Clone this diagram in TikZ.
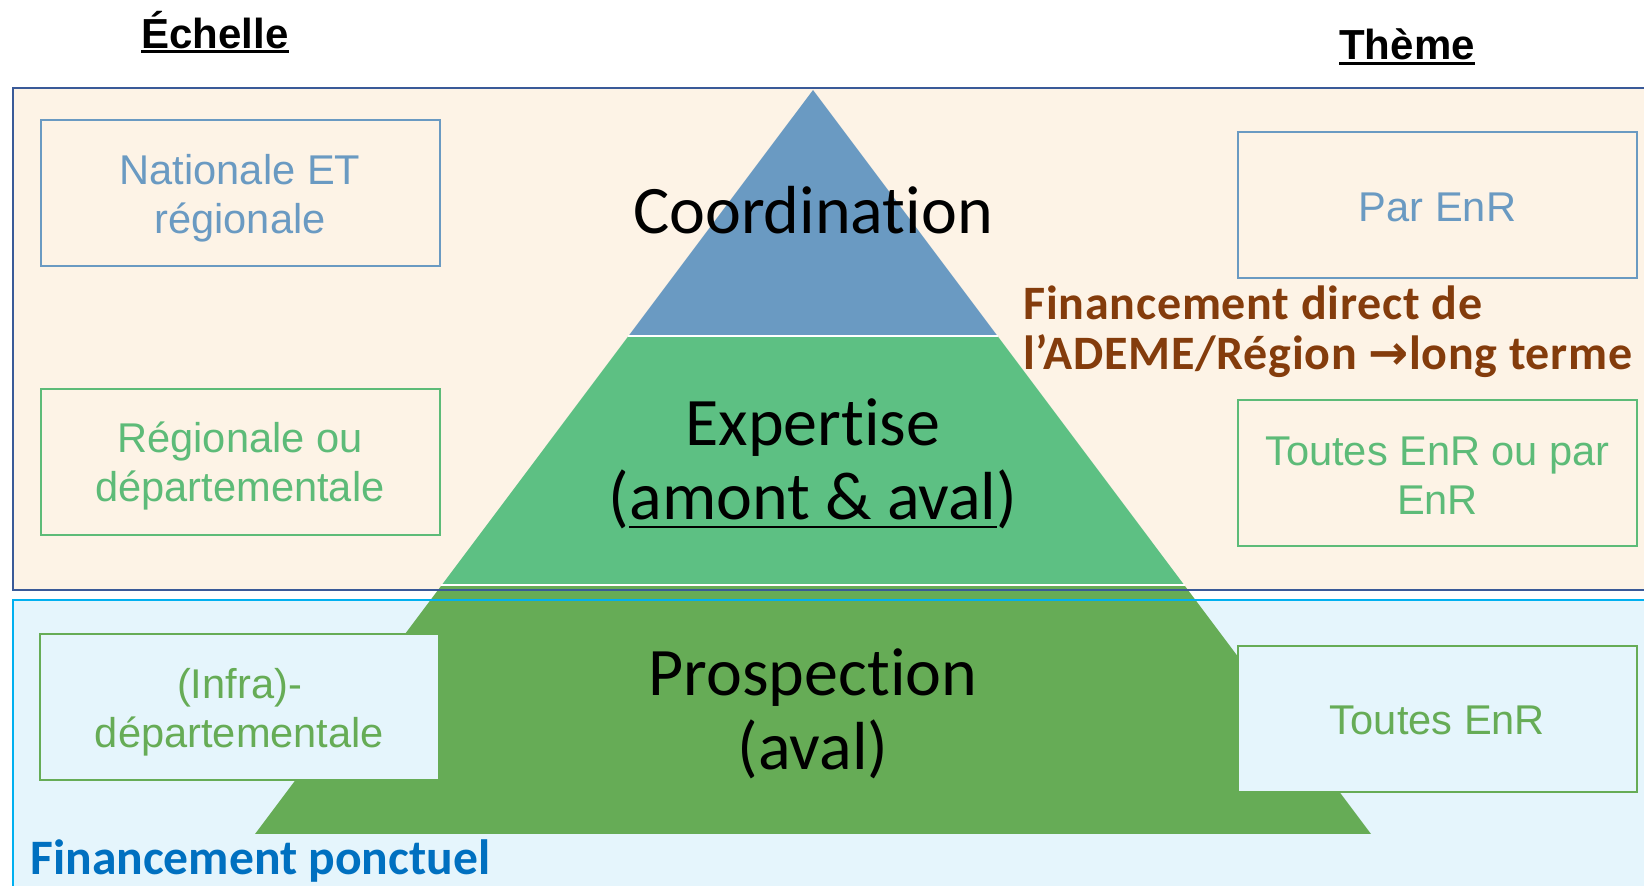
\documentclass[tikz,border=0pt]{standalone}
\usepackage{fontspec}
\setmainfont{Carlito}[Ligatures=NoCommon]
\newfontfamily\brownfont{Carlito}[Ligatures=NoCommon,LetterSpace=1.6]
\newfontfamily\arialfont{Liberation Sans}
\newfontfamily\arrowfont{DejaVu Sans}
\usetikzlibrary{calc}

% soulignement : #1 epaisseur, #2 descente, #3 texte
\newcommand{\myul}[3]{\setbox0\hbox{#3}\leavevmode\rlap{\raisebox{-#2}{\rule{\wd0}{#1}}}\box0}

\definecolor{topbg}{HTML}{FDF3E6}
\definecolor{botbg}{HTML}{E5F5FC}
\definecolor{topframe}{HTML}{3A5A98}
\definecolor{botframe}{HTML}{00B0F0}
\definecolor{pyrblue}{HTML}{6A9AC2}
\definecolor{pyrgreenA}{HTML}{5DC083}
\definecolor{pyrgreenB}{HTML}{66AC56}
\definecolor{txtgreenA}{HTML}{5DBB78}
\definecolor{finbrown}{HTML}{843C0C}
\definecolor{finblue}{HTML}{0070C0}

\tikzset{
	levelbox/.style={draw,line width=1pt,minimum width=199.5pt,minimum height=73pt,inner sep=0pt},
	boxtxt/.style={align=center,font=\arialfont\fontsize{20.8}{24.5}\selectfont},
	leveltxt/.style={align=center,font=\fontsize{34}{37}\selectfont,text=black},
	heading/.style={font=\arialfont\bfseries\fontsize{21}{24}\selectfont}
}

\begin{document}
\begin{tikzpicture}[x=0.5pt,y=-0.5pt]
\useasboundingbox (0,0) rectangle (1644,886);
\clip (0,0) rectangle (1644,886);
	% fonds
	\fill[topbg] (13,88) rectangle (1670,590);
	\fill[botbg] (13,600) rectangle (1670,900);
	% pyramide
	\coordinate (T) at (813,90);
	\coordinate (L1) at (628.1,336.5);
	\coordinate (R1) at (997.9,336.5);
	\coordinate (L2) at (441.4,585.5);
	\coordinate (R2) at (1184.6,585.5);
	\coordinate (BL) at (255,834);
	\coordinate (BR) at (1371,834);
	\fill[pyrblue] (T)--(R1)--(L1)--cycle;
	\fill[pyrgreenA] (L1)--(R1)--(R2)--(L2)--cycle;
	\fill[pyrgreenB] (L2)--(R2)--(BR)--(BL)--cycle;
	\draw[white,line width=1pt] (L1)--(R1);
	\draw[white,line width=1pt] (L2)--(R2);
	% cadres
	\draw[topframe,line width=1pt] (13,88) rectangle (1670,590);
	\draw[botframe,line width=1pt] (13,600) rectangle (1670,900);
	% titres
	\node[heading] (echelle) at (215,32) {\myul{1.5pt}{2.5pt}{Échelle}};
	\node[heading] (theme) at (1407,47) {\myul{1.5pt}{2.5pt}{Thème}};
	% niveaux
	\node[leveltxt] (coord) at (813,210) {Coordinat\kern0pt ion};
	\node[leveltxt] (expert) at (813,464) {Expert\kern0pt ise\\(\myul{1pt}{4pt}{amont \& aval})};
	\node[leveltxt] (prosp) at (813,714) {Prospect\kern0pt ion\\(aval)};
	% echelle
	\node[levelbox,draw=pyrblue,fill=topbg] (nat) at (240,193) {};
	\node[boxtxt,text=pyrblue] (natT) at ([yshift=-2.5pt]nat.center) {Nationale ET\\régionale};
	\node[levelbox,draw=txtgreenA,fill=topbg] (reg) at (240,462) {};
	\node[boxtxt,text=txtgreenA] (regT) at ([yshift=-2pt]reg.center) {Régionale ou\\départementale};
	\node[levelbox,draw=pyrgreenB,fill=botbg] (dep) at (239.5,707.5) {};
	\node[boxtxt,text=pyrgreenB] (depT) at ([yshift=-2.5pt]dep.center) {(Infra)-\\départementale};
	% theme
	\node[levelbox,draw=pyrblue,fill=topbg] (par) at (1437.5,205) {};
	\node[boxtxt,text=pyrblue] (parT) at ([yshift=-1pt]par.center) {Par EnR};
	\node[levelbox,draw=txtgreenA,fill=topbg] (toutespar) at (1437.5,473) {};
	\node[boxtxt,text=txtgreenA] (toutesparT) at ([yshift=-1.5pt]toutespar.center) {Toutes EnR ou par\\EnR};
	\node[levelbox,draw=pyrgreenB,fill=botbg] (toutes) at (1437.5,719.5) {};
	\node[boxtxt,text=pyrgreenB] (toutesT) at ([yshift=-0.5pt]toutes.center) {Toutes EnR};
	% financements
	\node[anchor=west,inner sep=0pt,align=left,text=finbrown,font=\brownfont\bfseries\fontsize{24}{25}\selectfont] (direct) at (1023,332)
		{Financement direct de\\l’ADEME/Région {\arrowfont\bfseries\fontsize{24}{25}\selectfont →}long terme};
	\node[anchor=west,inner sep=0pt,text=finblue,font=\bfseries\fontsize{24.8}{26}\selectfont] (ponct) at (30,861) {Financement ponctuel};
\end{tikzpicture}
\end{document}
